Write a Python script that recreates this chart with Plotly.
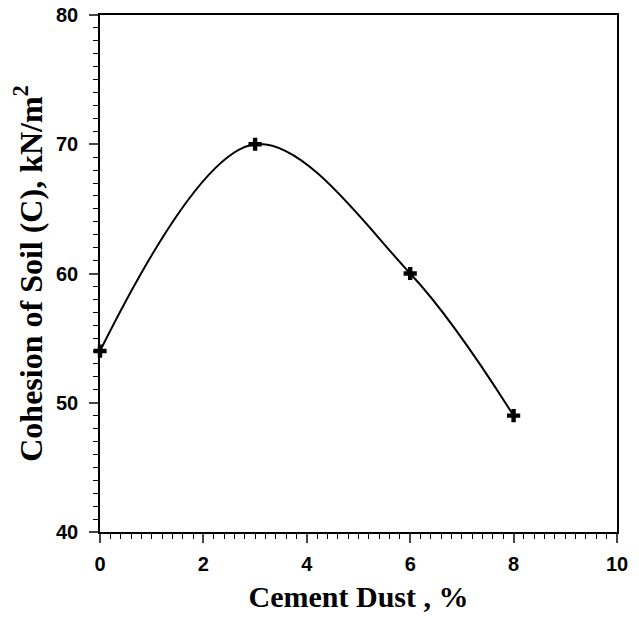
import plotly.graph_objects as go

cement_dust = [0, 3, 6, 8]
cohesion = [54, 70, 60, 49]

fig = go.Figure()
fig.add_trace(go.Scatter(
    x=cement_dust, y=cohesion, mode="lines+markers",
    line=dict(color="black", width=2, shape="spline", smoothing=1.0),
    marker=dict(symbol="cross", size=11, color="black"),
    cliponaxis=False, showlegend=False))

tickfont = dict(family="Arial", size=20, color="black", weight="bold")
xtitlefont = dict(family="Times New Roman", size=30, color="black", weight="bold")
ytitlefont = dict(family="Times New Roman", size=32, color="black", weight="bold")

fig.update_layout(
    width=639, height=618,
    margin=dict(l=100, r=22, t=15, b=86, autoexpand=False),
    plot_bgcolor="white", paper_bgcolor="white",
    xaxis=dict(range=[0, 10], dtick=2, ticks="outside", ticklen=9, tickwidth=1.5,
               showline=True, linecolor="black", linewidth=1.5, mirror=True,
               showgrid=False, zeroline=False, tickfont=tickfont, ticklabelstandoff=4,
               minor=dict(dtick=0.2, ticks="outside", ticklen=5, tickwidth=1.2, tickcolor="black", showgrid=False),
               title=dict(text="Cement Dust , %", font=xtitlefont, standoff=12)),
    yaxis=dict(range=[40, 80], dtick=10, ticks="outside", ticklen=9, tickwidth=1.5,
               showline=True, linecolor="black", linewidth=1.5, mirror=True,
               showgrid=False, zeroline=False, tickfont=tickfont, ticklabelstandoff=7,
               minor=dict(dtick=1, ticks="outside", ticklen=5, tickwidth=1.2, tickcolor="black", showgrid=False),
               title=dict(text="Cohesion of Soil (C), kN/m<sup>2</sup>", font=ytitlefont, standoff=4)),
)
fig.write_html("out.html")
